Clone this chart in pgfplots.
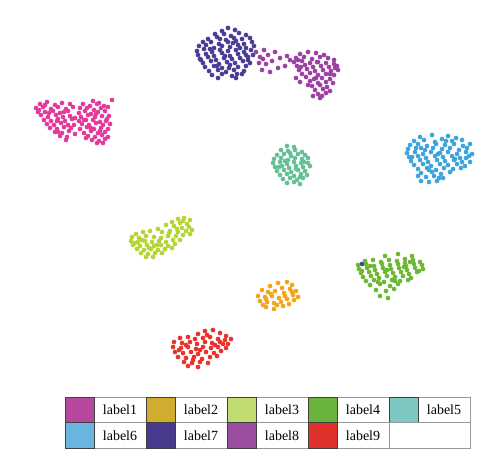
\documentclass[border=0pt]{standalone}
\usepackage{pgfplots}
\pgfplotsset{compat=1.18}
\usepackage{fontspec}
\setmainfont{Liberation Serif}

% point colours
\definecolor{p1}{HTML}{E33A9B}
\definecolor{p2}{HTML}{F2A41C}
\definecolor{p3}{HTML}{B4D533}
\definecolor{p4}{HTML}{6CB834}
\definecolor{p5}{HTML}{66C095}
\definecolor{p6}{HTML}{3EA4DC}
\definecolor{p7}{HTML}{4A3D98}
\definecolor{p8}{HTML}{9C40A6}
\definecolor{p9}{HTML}{E8322B}
% legend swatches
\definecolor{s1}{HTML}{B8479F}
\definecolor{s2}{HTML}{D0AD2F}
\definecolor{s3}{HTML}{C0DB72}
\definecolor{s4}{HTML}{6AB23E}
\definecolor{s5}{HTML}{7CC8C0}
\definecolor{s6}{HTML}{6BB5E3}
\definecolor{s7}{HTML}{463B8C}
\definecolor{s8}{HTML}{9B4D9F}
\definecolor{s9}{HTML}{E0302C}

\newcommand\cell[4]{%
  \draw[draw=black!40, line width=0.8pt] (#1pt+29pt,#2pt) rectangle ++(52pt,-25.2pt);
  \draw[draw=black!75, fill=#3, line width=0.8pt] (#1pt,#2pt) rectangle ++(29pt,-25.2pt);
  \node[font=\fontsize{14}{16}\selectfont, inner sep=0pt] at (#1pt+55pt,#2pt-12.6pt) {#4};
}

\begin{document}
\begin{tikzpicture}
\path (0,0) rectangle (500pt,474pt);
\begin{axis}[
  scale only axis,
  width=500pt, height=474pt,
  xmin=0, xmax=500, ymin=0, ymax=474,
  y dir=reverse,
  hide axis, clip=false,
  every axis plot/.append style={only marks, mark=*, mark size=2.1pt,
    mark options={draw=none}},
]
% label1
\addplot[p1] coordinates {
(112,100) (93,101) (99,103)
(40,104) (47,102) (55,105) (62,103) (70,104) (83,104) (90,106) (97,104) (104,106)
(36,108) (43,107) (51,109) (58,107) (66,109) (73,107) (80,108) (87,108) (94,110) (101,108) (108,107)
(38,112) (45,112) (53,111) (60,113) (68,111) (79,113) (85,111) (91,114) (98,112) (105,111)
(41,115) (48,117) (56,115) (63,117) (70,116) (81,117) (88,115) (95,117) (102,116) (109,116)
(44,120) (51,121) (58,119) (65,121) (72,119) (79,121) (86,120) (93,120) (100,122) (107,119)
(47,124) (54,125) (61,123) (68,125) (82,124) (89,125) (96,123) (103,125) (110,124)
(50,128) (57,129) (64,127) (71,128) (80,129) (87,127) (94,129) (101,128) (108,129)
(55,132) (62,133) (69,131) (84,133) (91,131) (98,133) (105,132)
(60,136) (67,137) (88,136) (95,137) (102,135) (108,137)
(66,140) (92,140) (99,141) (105,139) (97,143) (103,143) (75,134)
(39,110) (49,113) (57,121) (64,112) (75,118) (84,120) (96,114) (106,121) (91,128)
(58,132) (74,125) (100,131) (45,105) (86,138)
};
% label7
\addplot[p7] coordinates {
(228,28) (235,30) (222,31)
(215,34) (224,34) (231,36) (239,33) (246,35)
(208,39) (217,37) (226,40) (234,38) (242,39) (250,38)
(203,42) (211,42) (219,44) (228,42) (236,41) (244,44) (252,42)
(199,46) (206,45) (214,48) (222,46) (230,47) (238,45) (246,48) (254,46)
(197,51) (204,49) (212,52) (220,50) (228,51) (236,50) (244,52) (251,50)
(198,55) (206,54) (214,56) (222,53) (230,56) (238,54) (246,55) (253,55)
(200,59) (208,57) (216,60) (224,58) (232,59) (240,58) (248,60)
(203,63) (211,61) (219,64) (227,62) (235,63) (243,61) (250,63)
(205,67) (214,66) (222,68) (230,65) (238,67) (246,66)
(209,71) (218,70) (226,72) (234,70) (244,71)
(212,75) (222,74) (232,76) (242,74)
(218,78) (236,78) (362,264)
(210,49) (225,56) (240,48) (217,66) (233,43) (248,57) (201,60) (229,68) (220,39) (237,74)
};
% label8
\addplot[p8] coordinates {
(256,52) (260,57) (264,50) (268,55) (272,61) (259,63) (266,64) (275,52) (280,58)
(285,66) (262,70) (270,72) (278,68) (290,60)
(300,54) (308,52) (316,53) (324,55)
(296,58) (304,57) (312,59) (320,57) (328,58) (334,60)
(294,62) (302,61) (310,63) (318,62) (326,63) (334,64)
(297,66) (305,65) (313,67) (321,66) (329,67) (337,66)
(299,70) (307,69) (315,71) (323,70) (331,71) (338,70)
(302,74) (310,73) (318,75) (326,74) (334,75)
(296,78) (306,77) (314,79) (322,78) (330,79)
(300,82) (310,81) (318,83) (326,82) (333,83)
(312,86) (320,85) (327,87) (315,90) (323,89) (330,91)
(318,94) (326,93) (320,98) (313,96)
(301,67) (317,62) (330,74) (308,85) (322,96) (298,60) (335,68) (316,78) (287,56) (263,59)
};
% label5
\addplot[p5] coordinates {
(287,146) (294,147)
(281,150) (288,151) (295,150) (302,152)
(277,155) (284,154) (291,156) (298,154) (305,155)
(274,159) (281,158) (288,160) (295,158) (302,159) (308,158)
(273,163) (280,162) (287,164) (294,162) (301,163) (308,163)
(275,167) (282,166) (289,168) (296,166) (303,167) (310,166)
(277,171) (284,170) (291,172) (298,170) (305,171)
(280,175) (287,174) (294,176) (301,174) (307,175)
(283,179) (290,178) (297,180) (303,178)
(287,183) (294,182) (300,184)
(285,161) (296,169) (279,167) (290,153) (300,177) (304,162)
};
% label6
\addplot[p6] coordinates {
(420,137) (432,135) (448,136) (456,138)
(414,141) (424,140) (435,142) (442,139) (452,141) (462,140)
(410,145) (418,144) (427,146) (436,144) (445,145) (454,144) (463,146) (470,144)
(408,149) (416,148) (425,150) (433,148) (442,149) (450,148) (459,150) (467,148)
(407,153) (415,152) (423,154) (431,152) (440,153) (448,152) (457,154) (466,152) (472,154)
(409,157) (418,156) (426,158) (435,156) (443,157) (452,156) (460,158) (469,156)
(411,161) (420,160) (428,162) (437,160) (445,161) (454,160) (462,162) (470,162)
(414,165) (423,164) (431,166) (440,164) (448,165) (457,164) (465,166)
(418,169) (427,168) (436,170) (444,168) (453,169) (461,168)
(421,173) (432,172) (441,174) (450,172)
(418,176) (426,177) (434,176) (443,178)
(421,181) (429,182) (437,181)
(421,148) (438,154) (455,159) (429,170) (446,141) (466,158) (412,157) (439,178)
};
% label3
\addplot[p3] coordinates {
(178,219) (184,218) (190,220) (172,222) (180,223) (187,224) (166,225) (174,226) (182,228) (189,227)
(158,229) (150,231) (143,232) (136,234) (162,232) (170,231) (178,232) (186,231) (192,230)
(132,237) (139,238) (146,236) (154,237) (161,238) (168,236) (176,236) (183,235) (190,234)
(131,241) (138,242) (145,241) (152,242) (159,241) (166,242) (173,240) (180,240)
(133,245) (140,246) (147,245) (154,246) (161,245) (168,246) (175,244)
(137,249) (144,250) (151,249) (158,250) (165,249) (172,248)
(141,253) (148,254) (155,253) (162,253) (146,257) (153,257)
(142,240) (157,245) (169,233) (183,221) (149,248) (135,243) (177,229)
};
% label4
\addplot[p4] coordinates {
(385,256) (398,254) (412,256) (405,259)
(365,261) (373,260) (381,262) (389,260) (397,261) (405,263) (413,260) (420,262)
(358,265) (366,264) (374,266) (382,264) (390,265) (398,264) (406,266) (414,264) (422,265)
(359,269) (367,268) (375,270) (383,268) (391,269) (399,268) (407,270) (415,268) (423,269)
(361,273) (369,272) (377,274) (385,272) (393,273) (401,272) (409,274) (417,272)
(363,277) (371,276) (379,278) (387,276) (395,277) (403,276) (411,278)
(366,281) (374,280) (384,282) (392,280) (400,281) (408,280)
(370,285) (380,284) (390,286) (398,284)
(376,290) (386,291) (394,289) (380,296) (388,298)
(370,266) (387,270) (404,267) (419,271) (378,282) (395,281) (362,271) (410,262)
};
% label2
\addplot[p2] coordinates {
(278,283) (287,282) (292,285) (270,286) (282,288) (290,289) (296,291)
(262,290) (268,292) (275,291) (284,293) (293,295) (298,297)
(258,296) (265,297) (272,296) (279,298) (287,299) (294,300)
(260,301) (267,302) (274,303) (281,302) (289,304)
(266,307) (274,309) (283,306) (263,305)
(271,294) (285,296) (277,305) (266,299) (292,292)
};
% label9
\addplot[p9] coordinates {
(205,331) (213,330) (220,333) (226,336) (198,334)
(180,338) (188,337) (195,339) (203,338) (210,337) (218,339) (225,340) (231,339)
(174,342) (182,343) (190,342) (197,344) (205,342) (212,343) (220,342) (228,344)
(173,347) (181,348) (188,347) (196,349) (203,347) (211,348) (218,347) (226,348)
(175,352) (183,353) (191,352) (198,354) (206,352) (214,353) (221,351)
(178,357) (186,358) (194,357) (202,359) (210,357) (217,356)
(184,362) (192,363) (200,362) (208,363) (188,366) (198,367)
(186,345) (200,350) (215,345) (193,360) (223,344) (179,350) (207,335)
};
\end{axis}
% legend grid
\cell{65}{76.5}{s1}{label1}
\cell{146}{76.5}{s2}{label2}
\cell{227}{76.5}{s3}{label3}
\cell{308}{76.5}{s4}{label4}
\cell{389}{76.5}{s5}{label5}
\cell{65}{51.3}{s6}{label6}
\cell{146}{51.3}{s7}{label7}
\cell{227}{51.3}{s8}{label8}
\cell{308}{51.3}{s9}{label9}
\draw[draw=black!40, line width=0.8pt] (389pt,51.3pt) rectangle (470pt,26.1pt);
\end{tikzpicture}
\end{document}
